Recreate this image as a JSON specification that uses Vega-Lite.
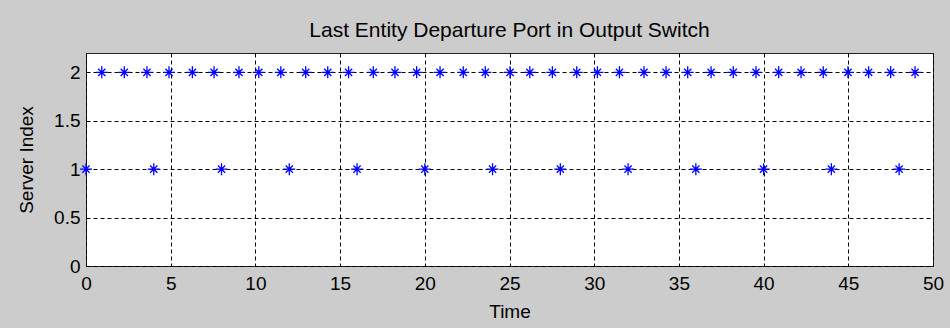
{
  "$schema": "https://vega.github.io/schema/vega-lite/v6.json",
  "width": 847,
  "height": 213,
  "autosize": {"type": "none"},
  "padding": {"left": 86, "top": 53, "right": 17, "bottom": 62},
  "background": "#cccccc",
  "title": {
    "text": "Last Entity Departure Port in Output Switch",
    "font": "Liberation Sans",
    "fontSize": 21,
    "fontWeight": "normal",
    "color": "#000000",
    "anchor": "middle",
    "baseline": "alphabetic",
    "offset": -5
  },
  "config": {
    "view": {"fill": "white", "stroke": "#222222", "strokeWidth": 1}
  },
  "data": {
    "values": [
      {"time": 0, "server": 1},
      {"time": 4, "server": 1},
      {"time": 8, "server": 1},
      {"time": 12, "server": 1},
      {"time": 16, "server": 1},
      {"time": 20, "server": 1},
      {"time": 24, "server": 1},
      {"time": 28, "server": 1},
      {"time": 32, "server": 1},
      {"time": 36, "server": 1},
      {"time": 40, "server": 1},
      {"time": 44, "server": 1},
      {"time": 48, "server": 1},
      {"time": 0.93, "server": 2},
      {"time": 2.26, "server": 2},
      {"time": 3.6, "server": 2},
      {"time": 4.9, "server": 2},
      {"time": 6.28, "server": 2},
      {"time": 7.56, "server": 2},
      {"time": 9.03, "server": 2},
      {"time": 10.2, "server": 2},
      {"time": 11.5, "server": 2},
      {"time": 12.97, "server": 2},
      {"time": 14.27, "server": 2},
      {"time": 15.5, "server": 2},
      {"time": 16.96, "server": 2},
      {"time": 18.24, "server": 2},
      {"time": 19.52, "server": 2},
      {"time": 20.9, "server": 2},
      {"time": 22.27, "server": 2},
      {"time": 23.57, "server": 2},
      {"time": 25.03, "server": 2},
      {"time": 26.2, "server": 2},
      {"time": 27.53, "server": 2},
      {"time": 28.97, "server": 2},
      {"time": 30.19, "server": 2},
      {"time": 31.49, "server": 2},
      {"time": 32.94, "server": 2},
      {"time": 34.24, "server": 2},
      {"time": 35.52, "server": 2},
      {"time": 36.9, "server": 2},
      {"time": 38.21, "server": 2},
      {"time": 39.55, "server": 2},
      {"time": 40.89, "server": 2},
      {"time": 42.21, "server": 2},
      {"time": 43.52, "server": 2},
      {"time": 44.98, "server": 2},
      {"time": 46.2, "server": 2},
      {"time": 47.5, "server": 2},
      {"time": 48.94, "server": 2}
    ]
  },
  "mark": {
    "type": "point",
    "shape": "M-1,0H1M0,-1V1M-0.6,-0.6L0.6,0.6M-0.6,0.6L0.6,-0.6",
    "filled": false,
    "stroke": "#0000ff",
    "strokeWidth": 1.3,
    "size": 144,
    "opacity": 1
  },
  "encoding": {
    "x": {
      "field": "time",
      "type": "quantitative",
      "scale": {"domain": [0, 50], "nice": false, "zero": false},
      "axis": {
        "title": "Time",
        "values": [0, 5, 10, 15, 20, 25, 30, 35, 40, 45, 50],
        "format": "d",
        "grid": true,
        "gridColor": "#000000",
        "gridDash": [4, 3],
        "gridOpacity": 1,
        "gridWidth": 1,
        "ticks": false,
        "domain": false,
        "labelFlush": false,
        "labelFont": "Liberation Sans",
        "labelFontSize": 19,
        "labelColor": "#000000",
        "labelPadding": 8,
        "titleFont": "Liberation Sans",
        "titleFontSize": 19,
        "titleFontWeight": "normal",
        "titleColor": "#000000",
        "titlePadding": 9
      }
    },
    "y": {
      "field": "server",
      "type": "quantitative",
      "scale": {"domain": [0, 2.2], "nice": false},
      "axis": {
        "title": "Server Index",
        "values": [0, 0.5, 1, 1.5, 2],
        "format": "~g",
        "grid": true,
        "gridColor": "#000000",
        "gridDash": [4, 3],
        "gridOpacity": 1,
        "gridWidth": 1,
        "ticks": false,
        "domain": false,
        "labelFlush": false,
        "labelFont": "Liberation Sans",
        "labelFontSize": 19,
        "labelColor": "#000000",
        "labelPadding": 6,
        "titleFont": "Liberation Sans",
        "titleFontSize": 19,
        "titleFontWeight": "normal",
        "titleColor": "#000000",
        "titlePadding": 17
      }
    }
  }
}
